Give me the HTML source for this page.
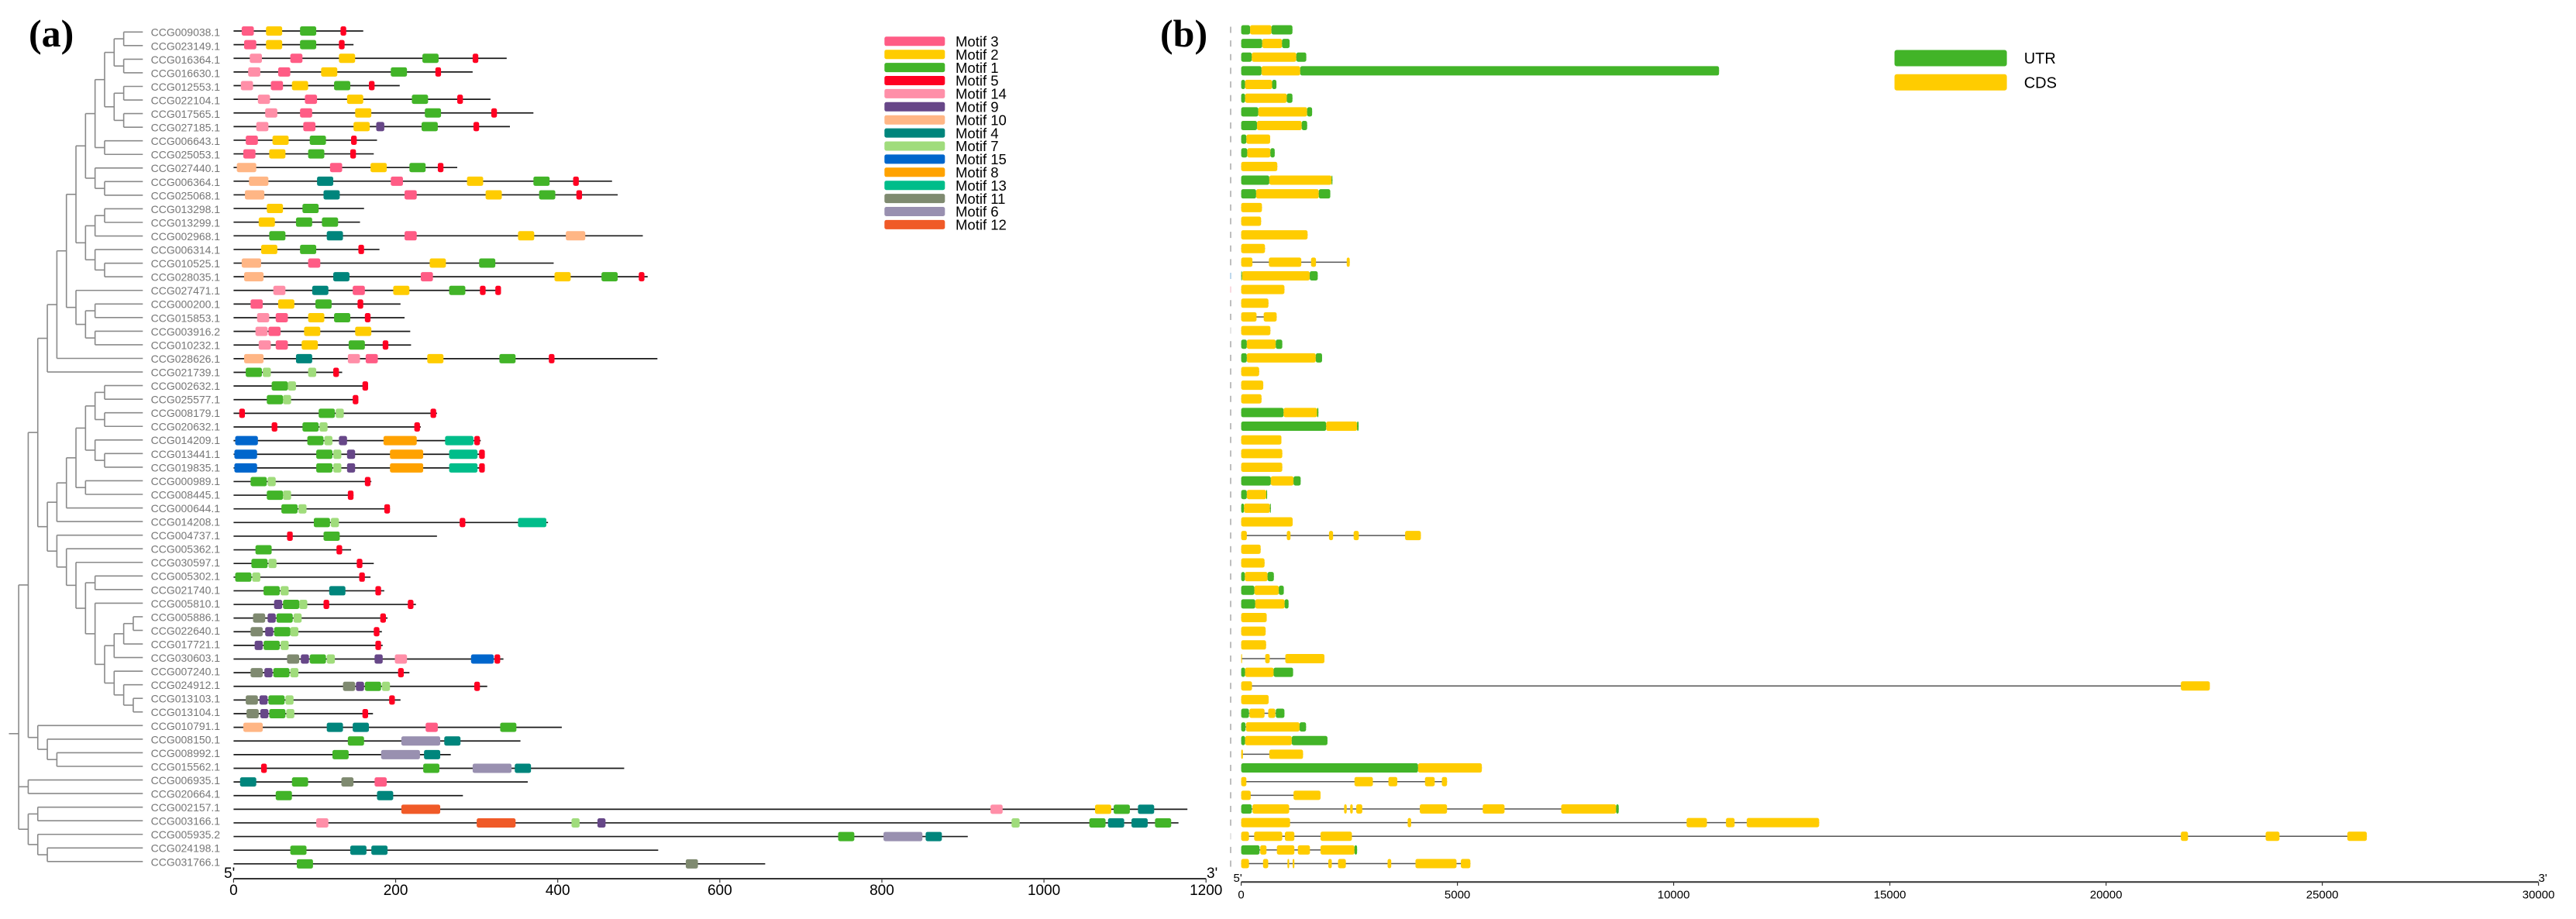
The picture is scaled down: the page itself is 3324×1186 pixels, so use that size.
<!DOCTYPE html>
<html lang="en">
<head>
<meta charset="utf-8">
<title>Gene family phylogeny, motifs and gene structure</title>
<style>
html,body{margin:0;padding:0;background:#fff;}
svg{display:block;}
text{font-family:"Liberation Sans",sans-serif;}
.panel{font-family:"Liberation Serif",serif;font-weight:bold;font-size:50px;fill:#000;}
</style>
</head>
<body>
<svg id="chart" xmlns="http://www.w3.org/2000/svg" width="3324" height="1186" viewBox="0 0 3324 1186">
  <rect x="0" y="0" width="3324" height="1186" fill="#ffffff"/>
  <text class="panel" x="37" y="60">(a)</text>
  <text class="panel" x="1497" y="60">(b)</text>
</svg>
<script>
const geneIds = ["CCG009038.1","CCG023149.1","CCG016364.1","CCG016630.1","CCG012553.1","CCG022104.1","CCG017565.1","CCG027185.1","CCG006643.1","CCG025053.1","CCG027440.1","CCG006364.1","CCG025068.1","CCG013298.1","CCG013299.1","CCG002968.1","CCG006314.1","CCG010525.1","CCG028035.1","CCG027471.1","CCG000200.1","CCG015853.1","CCG003916.2","CCG010232.1","CCG028626.1","CCG021739.1","CCG002632.1","CCG025577.1","CCG008179.1","CCG020632.1","CCG014209.1","CCG013441.1","CCG019835.1","CCG000989.1","CCG008445.1","CCG000644.1","CCG014208.1","CCG004737.1","CCG005362.1","CCG030597.1","CCG005302.1","CCG021740.1","CCG005810.1","CCG005886.1","CCG022640.1","CCG017721.1","CCG030603.1","CCG007240.1","CCG024912.1","CCG013103.1","CCG013104.1","CCG010791.1","CCG008150.1","CCG008992.1","CCG015562.1","CCG006935.1","CCG020664.1","CCG002157.1","CCG003166.1","CCG005935.2","CCG024198.1","CCG031766.1"];

const proteinLengths = [160,148,337,295,205,317,370,341,177,173,276,467,474,161,156,505,180,395,511,330,206,211,218,219,523,134,166,154,251,231,305,310,310,170,148,193,388,251,145,173,169,186,225,190,183,184,333,217,313,206,172,405,354,268,482,363,283,1177,1166,906,524,656];

const motifLegendOrder = [3,2,1,5,14,9,10,4,7,15,8,13,11,6,12];
const motifLengths = {3:15,2:20,1:20,5:7,14:15,9:10,10:24,4:20,7:10,15:28,8:41,13:35,11:15,6:48,12:48};
const motifColors = {3:"#ff5c85",2:"#ffcc00",1:"#42b428",5:"#ff0022",14:"#ff8fa8",9:"#674788",10:"#ffb685",4:"#00857c",7:"#a0dc7c",15:"#0066cc",8:"#ffa200",13:"#00bd8a",11:"#7f8a70",6:"#9990b0",12:"#f05a28"};

const motifHits = [
[[3,10],[2,40],[1,82],[5,132]],
[[3,13],[2,40],[1,82],[5,130]],
[[14,20],[3,70],[2,130],[1,233],[5,295]],
[[14,18],[3,55],[2,108],[1,194],[5,249]],
[[14,9],[3,46],[2,72],[1,124],[5,167]],
[[14,30],[3,88],[2,140],[1,220],[5,276]],
[[14,39],[3,82],[2,150],[1,236],[5,318]],
[[14,28],[3,86],[2,148],[9,176],[1,232],[5,296]],
[[3,15],[2,48],[1,94],[5,145]],
[[3,12],[2,44],[1,92],[5,144]],
[[10,4],[3,119],[2,169],[1,217],[5,252]],
[[10,19],[4,103],[3,194],[2,288],[1,370],[5,419]],
[[10,14],[4,111],[3,211],[2,311],[1,377],[5,423]],
[[2,41],[1,85]],
[[2,31],[1,77],[1,109]],
[[1,44],[4,115],[3,211],[2,351],[10,410]],
[[2,34],[1,82],[5,154]],
[[10,10],[3,92],[2,242],[1,303]],
[[10,13],[4,123],[3,231],[2,396],[1,454],[5,500]],
[[14,49],[4,97],[3,147],[2,197],[1,266],[5,304],[5,323]],
[[3,21],[2,55],[1,101],[5,153]],
[[14,29],[3,52],[2,92],[1,124],[5,162]],
[[14,27],[3,43],[2,87],[2,150]],
[[14,31],[3,52],[2,84],[1,142],[5,184]],
[[10,13],[4,77],[14,141],[3,163],[2,239],[1,328],[5,389]],
[[1,15],[7,36],[7,92],[5,123]],
[[1,47],[7,67],[5,159]],
[[1,41],[7,61],[5,147]],
[[5,7],[1,105],[7,126],[5,243]],
[[5,47],[1,85],[7,106],[5,223]],
[[15,2],[1,91],[7,112],[9,130],[8,185],[13,261],[5,297]],
[[15,1],[1,102],[7,123],[9,140],[8,193],[13,266],[5,303]],
[[15,1],[1,102],[7,123],[9,140],[8,193],[13,266],[5,303]],
[[1,21],[7,42],[5,162]],
[[1,41],[7,61],[5,141]],
[[1,59],[7,80],[5,186]],
[[1,99],[7,120],[5,279],[13,351]],
[[5,66],[1,111]],
[[1,27],[5,127]],
[[1,22],[7,43],[5,152]],
[[1,2],[7,23],[5,155]],
[[1,37],[7,58],[4,118],[5,175]],
[[9,50],[1,61],[7,81],[5,111],[5,215]],
[[11,24],[9,42],[1,53],[7,74],[5,181]],
[[11,21],[9,39],[1,50],[7,70],[5,173]],
[[9,26],[1,37],[7,58],[5,175]],
[[11,66],[9,83],[1,94],[7,115],[9,174],[14,199],[15,293],[5,322]],
[[11,21],[9,38],[1,49],[7,70],[5,203]],
[[11,135],[9,151],[1,162],[7,183],[5,297]],
[[11,15],[9,32],[1,43],[7,64],[5,192]],
[[11,16],[9,33],[1,44],[7,65],[5,159]],
[[10,12],[4,115],[4,147],[3,237],[1,329]],
[[1,141],[6,207],[4,260]],
[[1,122],[6,182],[4,235]],
[[5,34],[1,234],[6,295],[4,347]],
[[4,8],[1,72],[11,133],[3,174]],
[[1,52],[4,177]],
[[12,207],[14,934],[2,1063],[1,1086],[4,1116]],
[[14,102],[12,300],[7,417],[9,449],[7,960],[1,1056],[4,1079],[4,1108],[1,1137]],
[[1,746],[6,802],[4,854]],
[[1,70],[4,144],[4,170]],
[[1,78],[11,558]]
];

const geneStructures = [
[["U",0,205],["C",205,700],["U",700,1185]],
[["U",0,485],["C",485,945],["U",945,1120]],
[["U",0,245],["C",245,1275],["U",1275,1505]],
[["U",0,470],["C",470,1365],["U",1365,11050]],
[["U",0,90],["C",90,715],["U",715,815]],
[["U",0,90],["C",90,1055],["U",1055,1185]],
[["U",0,395],["C",395,1525],["U",1525,1640]],
[["U",0,365],["C",365,1400],["U",1400,1525]],
[["U",0,120],["C",120,670]],
[["U",0,140],["C",140,675],["U",675,775]],
[["C",0,835]],
[["U",0,650],["C",650,2090],["U",2090,2110]],
[["U",0,345],["C",345,1795],["U",1795,2060]],
[["C",0,480]],
[["C",0,460]],
[["C",0,1535]],
[["C",0,550]],
[["C",0,260],["C",640,1390],["C",1615,1730],["C",2440,2510]],
[["U",0,20],["C",20,1585],["U",1585,1770]],
[["C",0,1000]],
[["C",0,630]],
[["C",0,355],["C",520,820]],
[["C",0,675]],
[["U",0,130],["C",130,800],["U",800,950]],
[["U",0,130],["C",130,1725],["U",1725,1870]],
[["C",0,415]],
[["C",0,510]],
[["C",0,470]],
[["U",0,980],["C",980,1755],["U",1755,1785]],
[["U",0,1965],["C",1965,2680],["U",2680,2715]],
[["C",0,930]],
[["C",0,950]],
[["C",0,950]],
[["U",0,685],["C",685,1210],["U",1210,1375]],
[["U",0,130],["C",130,580],["U",580,600]],
[["U",0,65],["C",65,665],["U",665,685]],
[["C",0,1190]],
[["C",0,130],["C",1055,1140],["C",2030,2125],["C",2600,2720],["C",3790,4155]],
[["C",0,450]],
[["C",0,540]],
[["U",0,85],["C",85,610],["U",610,755]],
[["U",0,305],["C",305,870],["U",870,985]],
[["U",0,325],["C",325,1005],["U",1005,1095]],
[["C",0,590]],
[["C",0,565]],
[["C",0,575]],
[["C",0,20],["C",555,660],["C",1020,1925]],
[["U",0,90],["C",90,750],["U",750,1200]],
[["C",0,250],["C",21730,22400]],
[["C",0,635]],
[["U",0,180],["C",190,540],["C",625,790],["U",800,1000]],
[["U",0,100],["C",110,1350],["U",1350,1500]],
[["U",0,90],["C",90,1170],["U",1170,1995]],
[["C",0,40],["C",650,1430]],
[["U",0,4090],["C",4090,5565]],
[["C",0,120],["C",2620,3045],["C",3405,3610],["C",4250,4475],["C",4640,4760]],
[["C",0,220],["C",1210,1835]],
[["U",0,245],["C",260,1110],["C",2380,2440],["C",2520,2580],["C",2660,2800],["C",4130,4760],["C",5585,6090],["C",7400,8670],["U",8670,8730]],
[["C",0,1130],["C",3850,3930],["C",10300,10770],["C",11210,11410],["C",11690,13365]],
[["C",0,180],["C",300,950],["C",1010,1230],["C",1835,2560],["C",21730,21895],["C",23690,24010],["C",25580,26030]],
[["U",0,425],["C",440,585],["C",825,1230],["C",1310,1590],["C",1835,2620],["U",2620,2680]],
[["C",0,180],["C",505,625],["C",1070,1110],["C",1190,1230],["C",2015,2095],["C",2240,2420],["C",3385,3470],["C",4030,4980],["C",5080,5300]]
];

const motifAxisTicks = [0,200,400,600,800,1000,1200];
const geneAxisTicks = [0,5000,10000,15000,20000,25000,30000];
const structureLegend = [["U","UTR"],["C","CDS"]];
const structureColors = {U:"#42b428",C:"#ffcc00"};
const guideDashTints = {18:"#a9cbe6",19:"#f7cdd6",22:"#dddddd",59:"#dddddd"};

/* Tree topology: [depth level, ...children]; a plain number is the 1-based row of a leaf. */
const treeTopClade = [3,[4,[5,[6,[7,[8,[9,[10,[11,1,2],[11,3,4]],[10,[11,5,6],[11,7,8]]],[9,9,10]],[8,11,[9,12,13]]],[7,[8,[9,14,15],16],[8,17,[9,18,19]]]],[6,20,[7,[8,21,22],[8,23,24]]]],25],26];
const treeMidClade = [3,[4,[5,[6,[7,[8,[9,27,28],[9,29,30]],[8,31,[9,32,33]]],[7,34,35]],36],37],[4,38,[5,39,[6,40,[7,[8,41,42],[8,43,[9,[10,[11,[12,44,45],46],47],[10,48,[11,49,[12,50,51]]]]]]]]]];
const treeRoot = [0,[1,[2,treeTopClade,treeMidClade],[2,52,[3,53,[4,54,55]]]],[1,56,57],[1,[2,58,59],[2,60,[3,61,62]]]];

const SVG_NS = "http://www.w3.org/2000/svg";
const chart = document.getElementById("chart");

function make(tag, attrs, parent) {
  const el = document.createElementNS(SVG_NS, tag);
  for (const key in attrs) el.setAttribute(key, attrs[key]);
  parent.appendChild(el);
  return el;
}

function xMotif(aa) { return 301.4 + aa * 1.0457; }
function yMotifRow(i) { return 40 + 17.62 * i; }
function xGene(bp) { return 1601.6 + bp * 0.0558; }
function yGeneRow(i) { return 38.5 + 17.64 * i; }
function yLabel(i) { return 46.7 + 17.55 * i; }
function yTreeLeaf(i) { return 41.3 + 17.55 * i; }
function xTreeLevel(k) { return 24.1 + 12.32 * k; }
const TREE_LEAF_END = 184.3;

/* ---------- phylogenetic tree ---------- */
const treeGroup = make("g", {fill:"none", stroke:"#8a8a8a", "stroke-width":1.6}, chart);



function drawBranch(x1, y1, x2, y2) {
  const line = make("line", {x1:x1, y1:y1, x2:x2, y2:y2}, treeGroup);
  
  
}

function drawNode(node) {
  if (typeof node === "number") return {y: yTreeLeaf(node - 1), x: TREE_LEAF_END};
  const x = xTreeLevel(node[0]);
  const kids = node.slice(1).map(drawNode);
  const ys = kids.map(function (c) { return c.y; });
  kids.forEach(function (c) { drawBranch(x, c.y, c.x, c.y); });
  drawBranch(x, Math.min.apply(null, ys), x, Math.max.apply(null, ys));
  const mean = ys.reduce(function (a, b) { return a + b; }, 0) / ys.length;
  return {y: mean, x: x};
}
const rootPoint = drawNode(treeRoot);
drawBranch(11.5, rootPoint.y, rootPoint.x, rootPoint.y);

/* ---------- gene labels ---------- */
geneIds.forEach(function (id, i) {
  const label = make("text", {x:194.6, y:yLabel(i), "font-size":14, fill:"#777777"}, chart);
  
  
  label.textContent = id;
});

/* ---------- motif panel ---------- */
proteinLengths.forEach(function (len, i) {
  const y = yMotifRow(i);
  const row = make("g", {}, chart);
  
  
  const line = make("line", {x1:xMotif(0), y1:y, x2:xMotif(len), y2:y, stroke:"#1a1a1a", "stroke-width":1.7}, row);
  
  
  motifHits[i].forEach(function (hit) {
    const id = hit[0];
    const rect = make("rect", {
      x: xMotif(hit[1]), y: y - 6,
      width: motifLengths[id] * 1.0457, height: 12,
      rx: 2.5, ry: 2.5, fill: motifColors[id]
    }, row);
    
    
  });
});

/* motif legend */
motifLegendOrder.forEach(function (id, i) {
  const swatch = make("rect", {x:1141.3, y:47.3 + 16.9 * i, width:78, height:12, rx:2.5, ry:2.5, fill:motifColors[id]}, chart);
  
  
  const text = make("text", {x:1233, y:60 + 16.9 * i, "font-size":18.5, fill:"#000"}, chart);
  
  
  text.textContent = "Motif " + id;
});

/* motif axis */
const motifAxisLine = make("line", {x1:xMotif(0), y1:1134, x2:xMotif(1200), y2:1134, stroke:"#333", "stroke-width":2}, chart);


motifAxisTicks.forEach(function (v) {
  const tick = make("line", {x1:xMotif(v), y1:1134, x2:xMotif(v), y2:1139, stroke:"#333", "stroke-width":1.2}, chart);
  
  
  const text = make("text", {x:xMotif(v), y:1155, "font-size":19, "text-anchor":"middle", fill:"#000"}, chart);
  
  
  text.textContent = v;
});
const motifFive = make("text", {x:289, y:1133, "font-size":19, fill:"#000"}, chart);


motifFive.textContent = "5'";
const motifThree = make("text", {x:1557, y:1133, "font-size":19, fill:"#000"}, chart);


motifThree.textContent = "3'";

/* ---------- gene structure panel ---------- */
geneStructures.forEach(function (segments, i) {
  const y = yGeneRow(i);
  const row = make("g", {}, chart);
  
  
  const dash = make("line", {x1:1588, y1:y - 4, x2:1588, y2:y + 4, stroke:guideDashTints[i] || "#a8a8a8", "stroke-width":1.5}, row);
  
  
  const end = segments[segments.length - 1][2];
  const backbone = make("line", {x1:xGene(0), y1:y, x2:xGene(end), y2:y, stroke:"#555555", "stroke-width":1.5}, row);
  
  
  segments.forEach(function (seg) {
    const w = (seg[2] - seg[1]) * 0.0558;
    const rect = make("rect", {
      x: xGene(seg[1]), y: y - 6, width: w, height: 12,
      rx: Math.min(2.5, w / 2), ry: 2.5, fill: structureColors[seg[0]]
    }, row);
    
    
  });
});

/* structure legend */
structureLegend.forEach(function (item, i) {
  const swatch = make("rect", {x:2444.6, y:64.5 + 31.3 * i, width:145, height:21, rx:3, ry:3, fill:structureColors[item[0]]}, chart);
  
  
  const text = make("text", {x:2611.7, y:82 + 31.3 * i, "font-size":20, fill:"#000"}, chart);
  
  
  text.textContent = item[1];
});

/* gene axis */
const geneAxisLine = make("line", {x1:xGene(0), y1:1138.3, x2:xGene(30000), y2:1138.3, stroke:"#333", "stroke-width":2}, chart);


geneAxisTicks.forEach(function (v) {
  const tick = make("line", {x1:xGene(v), y1:1138.3, x2:xGene(v), y2:1143, stroke:"#333", "stroke-width":1.2}, chart);
  
  
  const text = make("text", {x:xGene(v), y:1159.3, "font-size":15, "text-anchor":"middle", fill:"#000"}, chart);
  
  
  text.textContent = v;
});
const geneFive = make("text", {x:1591.5, y:1138, "font-size":15, fill:"#000"}, chart);


geneFive.textContent = "5'";
const geneThree = make("text", {x:3275.5, y:1138, "font-size":15, fill:"#000"}, chart);


geneThree.textContent = "3'";
</script>
</body>
</html>
